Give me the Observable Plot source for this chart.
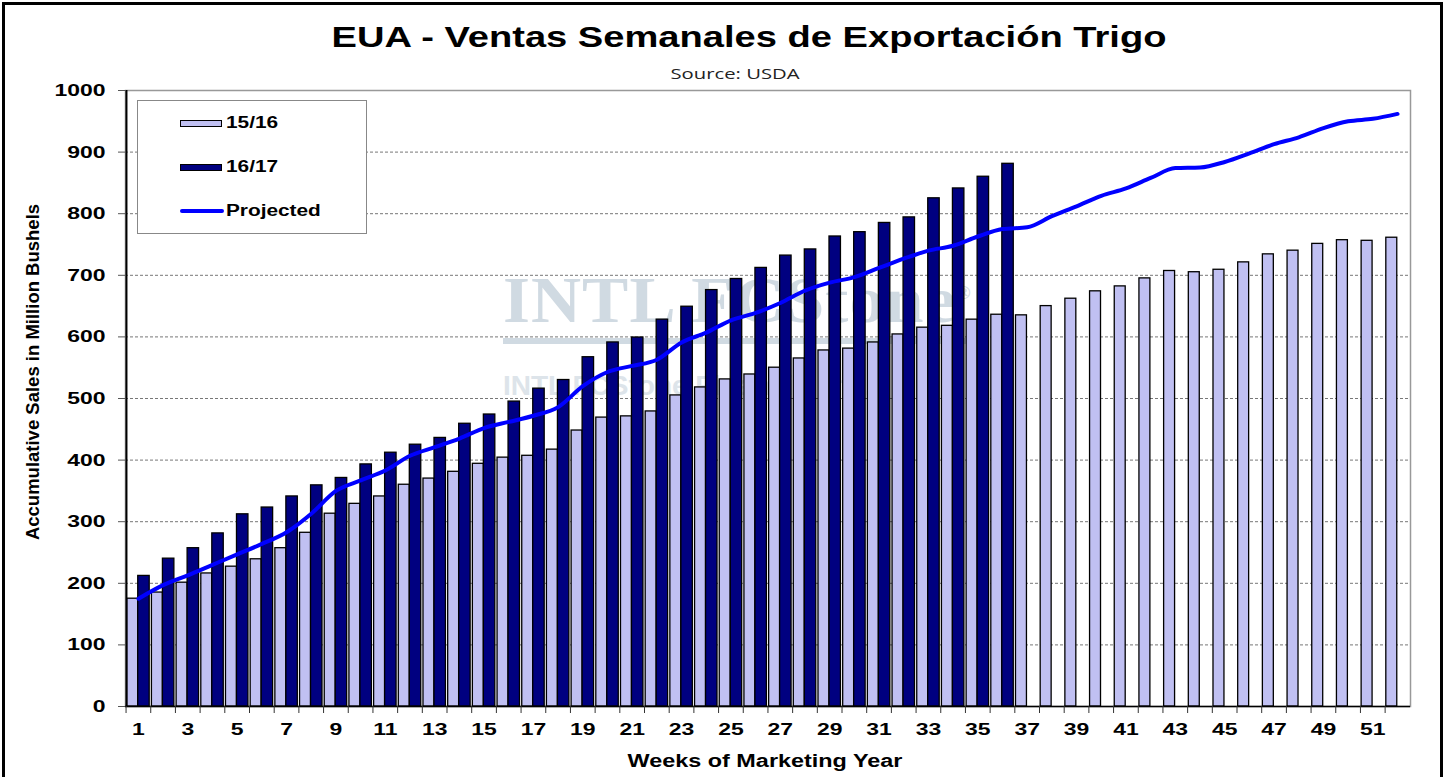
<!DOCTYPE html>
<html>
<head>
<meta charset="utf-8">
<script src="https://cdn.jsdelivr.net/npm/d3@7"></script>
<script src="https://cdn.jsdelivr.net/npm/@observablehq/plot@0.6"></script>
<style>
  html, body { margin: 0; padding: 0; background: #fff; }
  body { width: 1443px; height: 777px; position: relative; overflow: hidden; font-family: "Liberation Sans", Arial, sans-serif; }
  #frame { position: absolute; left: 2px; top: 2px; width: 1435px; height: 790px; border: 3px solid #000; }
  #title { position: absolute; left: 749px; top: 20px; transform: translateX(-50%) scaleX(1.27); white-space: nowrap; font-size: 30px; font-weight: bold; color: #000; }
  #source { position: absolute; left: 735px; top: 63px; transform: translateX(-50%) scaleX(1.35); white-space: nowrap; font-size: 15px; font-family: "Open Sans", sans-serif; color: #222; }
  #chart { position: absolute; left: 0; top: 80px; }
  #ylab { position: absolute; left: 33px; top: 372px; transform: translate(-50%, -50%) rotate(-90deg); white-space: nowrap; font-size: 18.5px; font-weight: bold; }
  #xlab { position: absolute; left: 765px; top: 751px; transform: translateX(-50%) scaleX(1.3); white-space: nowrap; font-size: 18px; font-weight: bold; }
  #legend { position: absolute; left: 137px; top: 100px; width: 228px; height: 132px; border: 1px solid #888; background: #fff; }
  .li { position: absolute; left: 42px; display: flex; align-items: center; }
  .lt { font-size: 16px; font-weight: bold; transform: scaleX(1.3); transform-origin: left center; }
  .sw { width: 42px; height: 7px; border: 1.5px solid #000; box-sizing: border-box; margin-right: 4px; }
  .ln { width: 44px; height: 4px; background: #0000ff; border-radius: 2px; margin-right: 2px; }
  #wm { position: absolute; left: 503px; top: 255px; font-family: "Liberation Serif", serif; font-weight: bold; font-size: 66px; color: #c5d1db; opacity: 0.8; letter-spacing: 1px; transform: scaleX(1.05); transform-origin: left; border-bottom: 6px solid #c5d1db; line-height: 76px; }
  #wm2 { position: absolute; left: 503px; top: 370px; font-size: 28px; font-weight: bold; color: #d2dbe3; opacity: 0.75; }
</style>
</head>
<body>
<div id="frame"></div>
<div id="title">EUA - Ventas Semanales de Exportación Trigo</div>
<div id="source">Source: USDA</div>
<div id="wm">INTL FCStone<sup style="font-size:18px">®</sup></div>
<div id="wm2">INTL FCStone Financial Inc.</div>
<div id="chart"></div>
<div id="ylab">Accumulative Sales in Million Bushels</div>
<div id="xlab">Weeks of Marketing Year</div>
<div id="legend">
  <div class="li" style="top:13px"><div class="sw" style="background:#c0c0f2"></div><span class="lt">15/16</span></div>
  <div class="li" style="top:57px"><div class="sw" style="background:#000080"></div><span class="lt">16/17</span></div>
  <div class="li" style="top:101px"><div class="ln"></div><span class="lt">Projected</span></div>
</div>
<script>
const weeks = [1,2,3,4,5,6,7,8,9,10,11,12,13,14,15,16,17,18,19,20,21,22,23,24,25,26,
  27,28,29,30,31,32,33,34,35,36,37,38,39,40,41,42,43,44,45,46,47,48,49,50,51,52];
const sales1516 = [175,185,201,216,227,239,257,282,313,329,341,360,370,381,394,404,407,417,448,469,
  471,479,505,518,531,539,550,565,578,581,591,604,615,618,628,636,635,650,662,674,
  682,695,707,705,709,721,734,740,751,757,756,761];
const sales1617 = [212,240,257,281,312,323,341,359,371,393,412,425,436,459,474,495,516,530,567,591,
  599,628,649,676,694,712,732,742,763,770,785,794,825,841,860,881];
const projected = [175,197,213,230,247,264,283,313,350,367,383,407,421,435,452,462,472,486,520,543,
  553,563,591,607,627,639,655,675,688,697,712,727,740,748,763,775,778,796,812,829,
  841,858,874,875,884,898,913,924,939,950,954,962];
const yTicks = [0,100,200,300,400,500,600,700,800,900,1000];
const xTickLabels = weeks.filter(w => w % 2 === 1);

const d1516 = weeks.map((w, i) => ({week: w, value: sales1516[i]}));
const d1617 = sales1617.map((v, i) => ({week: weeks[i], value: v}));
const dProj = weeks.map((w, i) => ({week: w, value: projected[i]}));

const chart = Plot.plot({
  width: 1443,
  height: 697,
  marginTop: 10,
  marginBottom: 71,
  marginLeft: 125,
  marginRight: 33,
  style: {fontFamily: "Liberation Sans, Arial, sans-serif", background: "transparent"},
  x: {type: "band", domain: weeks, padding: 0.05},
  y: {domain: [0, 1000]},
  marks: [
    Plot.gridY(yTicks.filter(t => t > 0 && t < 1000), {stroke: "#777", strokeOpacity: 1, strokeDasharray: "3,2", strokeWidth: 1}),
    Plot.frame({stroke: "#999", strokeWidth: 1.5}),
    Plot.barY(d1516, {x: "week", y: "value", fill: "#c0c0f2", stroke: "#000", strokeWidth: 1.3, insetRight: 12, insetLeft: 0.5}),
    Plot.barY(d1617, {x: "week", y: "value", fill: "#000080", stroke: "#000", strokeWidth: 1.3, insetLeft: 11.5, insetRight: 0.5}),
    Plot.line(dProj, {x: "week", y: "value", stroke: "#0000ff", strokeWidth: 4, curve: "monotone-x", strokeLinecap: "round"}),
    Plot.ruleY([0], {stroke: "#000", strokeWidth: 1.5}),
    Plot.ruleX([weeks[0]], {stroke: "#000", strokeWidth: 2, dx: -12, y1: 0, y2: 1000}),
    Plot.axisY(yTicks, {tickSize: 7, tickPadding: 13, fontSize: 17, fontWeight: "bold", fill: "#000", tickFormat: "d", label: null, stroke: "#555"}),
    Plot.axisX(weeks, {tickSize: 7, dx: -12.4, tickFormat: () => "", label: null, stroke: "#333"}),
    Plot.axisX(xTickLabels, {tickSize: 0, tickPadding: 16, fontSize: 17, fontWeight: "bold", fill: "#000", label: null})
  ]
});
d3.select(chart).selectAll('g[aria-label$="tick label"] text')
  .attr("transform", function () { return (this.getAttribute("transform") || "") + " scale(1.35,1)"; });
document.getElementById("chart").appendChild(chart);
</script>
</body>
</html>
